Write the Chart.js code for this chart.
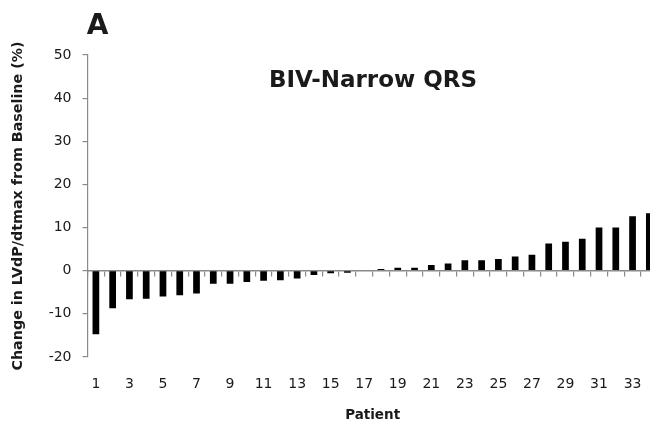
<!DOCTYPE html>
<html>
<head>
<meta charset="utf-8">
<script src="https://cdn.jsdelivr.net/npm/chart.js@4.4.1/dist/chart.umd.min.js"></script>
<style>
  html, body { margin:0; padding:0; background:#fff; overflow:hidden; }
  #wrap { width:668px; height:424px; }
</style>
</head>
<body>
<div id="wrap"><canvas id="dpdt-chart" width="668" height="424"></canvas></div>
<script>
// patient numbers along the category axis
const patients = ['1','2','3','4','5','6','7','8','9','10','11','12','13','14','15','16','17',
                  '18','19','20','21','22','23','24','25','26','27','28','29','30','31','32','33','34'];

// % change in LV dP/dtmax from baseline, sorted low -> high
const dpdtChange = [-14.7, -8.7, -6.6, -6.5, -6.0, -5.7, -5.3, -3.0, -3.0, -2.6, -2.3, -2.2,
                    -1.8, -1.0, -0.6, -0.5, -0.1, 0.4, 0.7, 0.7, 1.3, 1.7, 2.4, 2.4, 2.7,
                    3.3, 3.7, 6.3, 6.7, 7.4, 10.0, 10.0, 12.6, 13.3];

const yMin = -20, yMax = 50, yStep = 10;

const panelLetter = 'A';
const chartTitle = 'BIV-Narrow QRS';
const yTitle = 'Change in LVdP/dtmax from Baseline (%)';
const xTitle = 'Patient';

const axisGrey = '#8a8a8a';
const inkColor = '#1a1a1a';

// panel letter + in-plot title
const panelText = {
  id: 'panelText',
  afterDraw(chart){
    const c = chart.ctx;
    c.save();
    c.fillStyle = inkColor;
    c.textAlign = 'center';
    c.textBaseline = 'alphabetic';
    c.font = 'bold 28px "DejaVu Sans"';
    c.fillText(panelLetter, 97.5, 33.5);
    c.font = 'bold 23px "DejaVu Sans"';
    c.fillText(chartTitle, 373, 87);
    c.restore();
  }
};

const ctx = document.getElementById('dpdt-chart').getContext('2d');
new Chart(ctx, {
  type: 'bar',
  data: {
    labels: patients,
    datasets: [{
      data: dpdtChange,
      backgroundColor: '#000',
      borderWidth: 0,
      barPercentage: 0.4,
      categoryPercentage: 1.0
    }]
  },
  options: {
    responsive: false,
    animation: false,
    layout: { padding: { top: 55, left: 0, right: 4.7, bottom: 0 } },
    plugins: { legend: { display: false }, tooltip: { enabled: false } },
    scales: {
      x: {
        position: 'bottom',
        border: { display: false },
        grid: { display: false, drawTicks: false },
        ticks: {
          autoSkip: false, maxRotation: 0, padding: 18.6,
          color: inkColor,
          font: { family: '"DejaVu Sans"', size: 14 },
          callback: (v, i) => i % 2 === 0 ? patients[i] : ''
        },
        title: {
          display: true, text: xTitle, color: inkColor,
          font: { family: '"DejaVu Sans"', size: 13.5, weight: 'bold' },
          padding: { top: 0, bottom: 0 }
        },
        afterFit: s => { s.height = 67; }
      },
      // zero line with between-category tick marks
      x0: {
        type: 'category',
        position: { y: 0 },
        offset: true,
        border: { display: true, color: axisGrey, width: 1.5 },
        grid: { offset: true, drawOnChartArea: false, drawTicks: true, tickLength: 5, color: axisGrey, lineWidth: 1.2 },
        ticks: { display: false }
      },
      y: {
        min: yMin, max: yMax,
        border: { display: true, color: axisGrey, width: 1.2 },
        grid: { drawOnChartArea: false, drawTicks: true, tickLength: 5, color: axisGrey, lineWidth: 1.2 },
        ticks: {
          stepSize: yStep, padding: 11, color: inkColor,
          font: { family: '"DejaVu Sans"', size: 14 }
        },
        title: {
          display: true, text: yTitle, color: inkColor,
          font: { family: '"DejaVu Sans"', size: 14.3, weight: 'bold' },
          padding: { top: 10, bottom: 0 }
        },
        afterFit: s => { s.width = 87.5; }
      }
    }
  },
  plugins: [panelText]
});
</script>
</body>
</html>
